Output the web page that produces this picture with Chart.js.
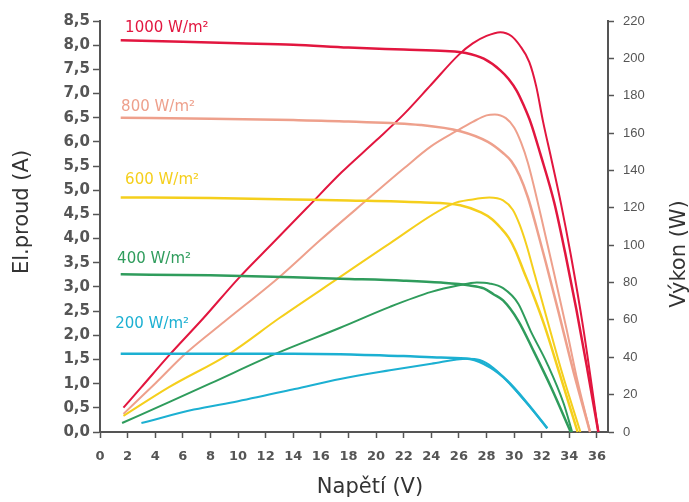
<!DOCTYPE html>
<html>
<head>
<meta charset="utf-8">
<script src="https://cdn.jsdelivr.net/npm/chart.js@4.4.1/dist/chart.umd.min.js"></script>
<style>
  html, body { margin: 0; padding: 0; background: #fff; }
</style>
</head>
<body>
<canvas id="myChart" width="689" height="502"></canvas>
<script>
// osa x: napětí (V), ticks
var xTicks = [0, 2, 4, 6, 8, 10, 12, 14, 16, 18, 20, 22, 24, 26, 28, 30, 32, 34, 36];

// popisky krivek
var ozareni = ["1000 W/m²", "800 W/m²", "600 W/m²", "400 W/m²", "200 W/m²"];
var barvy = ["#e2163f", "#eea08c", "#f5cf1c", "#2f9c5c", "#1cb0d2"];

// 1000 W/m2
var v1000I = [1.5, 6, 10, 14, 18, 22, 25, 26.5, 27.8, 29, 29.6, 30.2, 30.7, 31.2, 31.9, 32.9, 33.7, 34.5, 35.3, 36.1];
var i1000 = [8.1, 8.07, 8.04, 8.01, 7.95, 7.91, 7.88, 7.84, 7.72, 7.48, 7.3, 7.05, 6.75, 6.4, 5.75, 4.75, 3.7, 2.55, 1.3, 0];
var v1000P = [1.7, 3, 5, 7.5, 10, 12.5, 15, 17.5, 20, 22, 24, 26, 27, 28, 29, 29.8, 30.4, 31.1, 31.6, 32.1, 32.7, 33.4, 34.1, 35, 36.1];
var p1000 = [13, 24, 41, 61, 82, 101, 120, 139, 156, 170, 186, 202, 208, 212, 214, 212, 207, 198, 185, 166, 146, 122, 95, 56, 0];

// 800 W/m2
var v800I = [1.5, 8, 14, 18, 23.2, 26.1, 28.1, 29.2, 29.8, 30.4, 31, 31.6, 32.3, 33.2, 34.3, 35.5];
var i800 = [6.5, 6.48, 6.45, 6.42, 6.35, 6.22, 6.0, 5.77, 5.6, 5.3, 4.85, 4.25, 3.5, 2.5, 1.25, 0];
var v800P = [1.7, 4, 6.2, 9, 13, 16, 19.3, 22, 24, 25.8, 27, 28, 28.6, 29.4, 30, 30.5, 31, 31.9, 32.8, 33.8, 34.6, 35.5];
var p800 = [9.7, 26, 42, 59, 83, 103, 124, 141, 153, 161, 166, 169.5, 170, 168, 163, 155, 144, 117, 88, 55, 27, 0];

// 600 W/m2
var v600I = [1.5, 8, 14, 18, 23.2, 26.1, 27.6, 28.4, 29, 29.6, 30.1, 30.7, 31.3, 32.2, 33.3, 34.6];
var i600 = [4.85, 4.84, 4.81, 4.79, 4.75, 4.69, 4.54, 4.4, 4.23, 4.02, 3.75, 3.32, 2.9, 2.2, 1.2, 0];
var v600P = [1.7, 5, 9.4, 13, 17.4, 21, 25.5, 27, 28.2, 29.2, 29.9, 30.4, 30.9, 31.5, 32.4, 33.5, 34.8];
var p600 = [8.6, 24, 42, 61, 83, 101, 122, 124.5, 125.5, 124, 119, 111, 100, 84, 60, 31, 0];

// 400 W/m2
var v400I = [1.5, 8, 14, 17.4, 22, 24.7, 26.8, 27.8, 28.5, 29.2, 30.3, 31.4, 32.7, 34.1];
var i400 = [3.26, 3.24, 3.2, 3.17, 3.13, 3.09, 3.03, 2.97, 2.85, 2.72, 2.3, 1.68, 0.91, 0];
var v400P = [1.6, 5, 8, 12.7, 17.4, 21, 24, 26, 27.3, 28.2, 29.2, 30.3, 31.2, 32.4, 33.6, 34.2];
var p400 = [4.8, 16, 26, 41.8, 55.8, 67, 75, 78.5, 80, 79.5, 77, 68.7, 54, 36.5, 15, 0];

// 200 W/m2
var v200I = [1.5, 8, 14, 17.4, 22, 24.7, 26.8, 28.3, 29.5, 31, 32.4];
var i200 = [1.62, 1.62, 1.62, 1.61, 1.57, 1.54, 1.51, 1.33, 1.06, 0.58, 0.08];
var v200P = [3, 6.8, 10, 14.1, 17.4, 21, 24, 26.6, 27.5, 28.5, 29.7, 31.2, 32.4];
var p200 = [4.8, 12, 16.5, 23, 28.4, 33, 36.5, 39.2, 38.5, 34.3, 25.7, 12.9, 2];

function body(vs, ys) {
  return vs.map(function (v, k) { return { x: v, y: ys[k] }; });
}

function krivka(vs, ys, barva, osa, sirka) {
  return {
    data: body(vs, ys),
    borderColor: barva,
    borderWidth: sirka,
    pointRadius: 0,
    fill: false,
    cubicInterpolationMode: "monotone",
    yAxisID: osa,
    clip: false
  };
}

var datasets = [
  krivka(v200I, i200, barvy[4], "y", 2.5),
  krivka(v200P, p200, barvy[4], "y2", 2),
  krivka(v400I, i400, barvy[3], "y", 2.5),
  krivka(v400P, p400, barvy[3], "y2", 2),
  krivka(v600I, i600, barvy[2], "y", 2.5),
  krivka(v600P, p600, barvy[2], "y2", 2),
  krivka(v800I, i800, barvy[1], "y", 2.5),
  krivka(v800P, p800, barvy[1], "y2", 2),
  krivka(v1000I, i1000, barvy[0], "y", 2.5),
  krivka(v1000P, p1000, barvy[0], "y2", 2)
];

// popisky u krivek (pozice v jednotkach grafu)
var popiskyPos = [[1.82, 8.35], [1.53, 6.71], [1.82, 5.2], [1.24, 3.58], [1.1, 2.23]];

var texty = {
  id: "texty",
  afterDraw: function (chart) {
    var ctx = chart.ctx;
    var sx = chart.scales.x;
    var sy = chart.scales.y;
    ctx.save();
    ctx.font = "15px 'DejaVu Sans'";
    ctx.textAlign = "left";
    ctx.textBaseline = "middle";
    for (var k = 0; k < ozareni.length; k++) {
      ctx.fillStyle = barvy[k];
      ctx.fillText(ozareni[k], sx.getPixelForValue(popiskyPos[k][0]), sy.getPixelForValue(popiskyPos[k][1]));
    }
    ctx.fillStyle = "#333";
    ctx.font = "21px 'DejaVu Sans'";
    ctx.textAlign = "center";
    ctx.fillText("Napětí (V)", 370, 488);
    ctx.translate(23, 212);
    ctx.rotate(-Math.PI / 2);
    ctx.fillText("El.proud (A)", 0, 0);
    ctx.restore();
    ctx.save();
    ctx.fillStyle = "#333";
    ctx.font = "21px 'DejaVu Sans'";
    ctx.textAlign = "center";
    ctx.textBaseline = "middle";
    ctx.translate(680, 254);
    ctx.rotate(-Math.PI / 2);
    ctx.fillText("Výkon (W)", 0, 0);
    ctx.restore();
  }
};

var ctx = document.getElementById("myChart");
var myChart = new Chart(ctx, {
  type: "line",
  data: { datasets: datasets },
  plugins: [texty],
  options: {
    responsive: false,
    animation: false,
    layout: { padding: { top: 21, left: 0, right: 0, bottom: 0 } },
    plugins: { legend: { display: false }, tooltip: { enabled: false } },
    scales: {
      x: {
        type: "linear",
        min: 0,
        max: 36.8,
        afterBuildTicks: function (s) { s.ticks = xTicks.map(function (v) { return { value: v }; }); },
        afterFit: function (s) { s.height = 70; },
        grid: { drawOnChartArea: false, tickLength: 6, tickColor: "#555", tickWidth: 1.5 },
        border: { color: "#555", width: 2 },
        ticks: { autoSkip: false, maxRotation: 0, padding: 11, color: "#555", font: { family: "DejaVu Sans", size: 13, weight: "bold" } }
      },
      y: {
        position: "left",
        min: 0,
        max: 8.5,
        afterFit: function (s) { s.width = 100; },
        grid: { drawOnChartArea: false, tickLength: 7, tickColor: "#555", tickWidth: 1.5 },
        border: { color: "#555", width: 2 },
        ticks: {
          stepSize: 0.5,
          padding: 3,
          color: "#555",
          font: { family: "DejaVu Sans", size: 15, weight: "bold" },
          callback: function (v) { return v.toFixed(1).replace(".", ","); }
        }
      },
      y2: {
        position: "right",
        min: 0,
        max: 220,
        afterFit: function (s) { s.width = 81; },
        grid: { drawOnChartArea: false, tickLength: 6, tickColor: "#555", tickWidth: 1.5 },
        border: { color: "#555", width: 2 },
        ticks: { stepSize: 20, padding: 9, color: "#555", font: { family: "Liberation Sans", size: 13 } }
      }
    }
  }
});
</script>
</body>
</html>
